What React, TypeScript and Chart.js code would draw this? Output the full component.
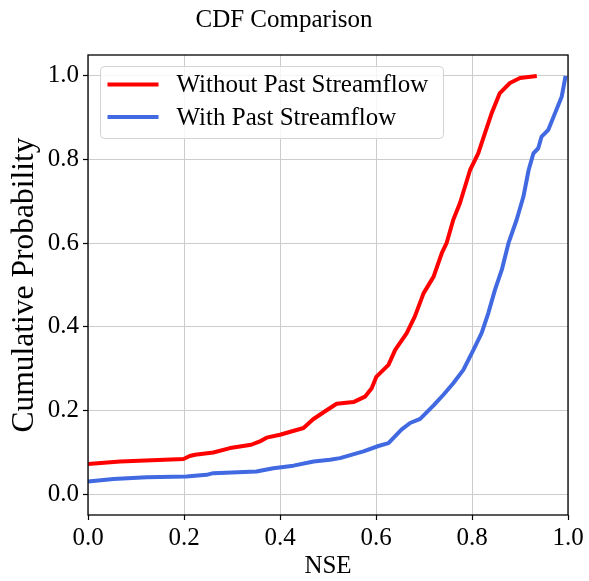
import React, { useEffect, useRef } from "react";
import { Chart, registerables } from "chart.js";

Chart.register(...registerables);

const TITLE = "CDF Comparison";
const X_LABEL = "NSE";
const Y_LABEL = "Cumulative Probability";
const SERIES_LABELS = ["Without Past Streamflow", "With Past Streamflow"];
const SERIES_COLORS = ["#ff0000", "#4169e1"];
const X_TICKS = [0, 0.2, 0.4, 0.6, 0.8, 1.0];
const Y_TICKS = [0, 0.2, 0.4, 0.6, 0.8, 1.0];

const withoutX = [0.0, 0.067, 0.199, 0.212, 0.223, 0.261, 0.296, 0.34, 0.358, 0.372, 0.4, 0.449, 0.469, 0.494, 0.518, 0.553, 0.577, 0.591, 0.601, 0.626, 0.64, 0.664, 0.681, 0.699, 0.72, 0.737, 0.747, 0.761, 0.775, 0.796, 0.813, 0.827, 0.841, 0.858, 0.879, 0.9, 0.935];
const withoutY = [0.072, 0.078, 0.084, 0.091, 0.094, 0.0995, 0.11, 0.118, 0.126, 0.135, 0.142, 0.158, 0.179, 0.198, 0.216, 0.22, 0.233, 0.253, 0.281, 0.309, 0.345, 0.385, 0.425, 0.48, 0.52, 0.576, 0.6, 0.656, 0.696, 0.775, 0.815, 0.863, 0.911, 0.959, 0.983, 0.995, 1.0];

const withX = [0.0, 0.053, 0.122, 0.205, 0.247, 0.261, 0.351, 0.386, 0.428, 0.47, 0.504, 0.525, 0.574, 0.605, 0.626, 0.653, 0.671, 0.692, 0.72, 0.74, 0.761, 0.782, 0.803, 0.82, 0.834, 0.848, 0.862, 0.876, 0.893, 0.907, 0.918, 0.928, 0.938, 0.945, 0.959, 0.973, 0.987, 0.995];
const withY = [0.03, 0.036, 0.04, 0.042, 0.046, 0.05, 0.054, 0.062, 0.068, 0.078, 0.082, 0.086, 0.102, 0.115, 0.122, 0.154, 0.17, 0.18, 0.212, 0.237, 0.265, 0.297, 0.345, 0.385, 0.433, 0.489, 0.536, 0.6, 0.656, 0.711, 0.775, 0.815, 0.827, 0.855, 0.871, 0.911, 0.951, 1.0];

const FONT_FAMILY = "'Liberation Serif', 'Times New Roman', serif";
const FONT_SIZE = 25;
const Y_LABEL_SIZE = 31.5;

const toPoints = (xs: number[], ys: number[]) => xs.map((x, i) => ({ x, y: ys[i] }));

const framePlugin = {
  id: "frameAndLegend",
  afterDraw(chart: any) {
    const { ctx, chartArea } = chart;
    ctx.save();
    ctx.strokeStyle = "#000";
    ctx.lineWidth = 1.3;
    ctx.strokeRect(chartArea.left, chartArea.top, chartArea.right - chartArea.left, chartArea.bottom - chartArea.top);

    const bx = chartArea.left + 12.5;
    const by = chartArea.top + 11.5;
    const bw = 343;
    const bh = 72;
    const r = 4;
    ctx.beginPath();
    ctx.moveTo(bx + r, by);
    ctx.lineTo(bx + bw - r, by);
    ctx.quadraticCurveTo(bx + bw, by, bx + bw, by + r);
    ctx.lineTo(bx + bw, by + bh - r);
    ctx.quadraticCurveTo(bx + bw, by + bh, bx + bw - r, by + bh);
    ctx.lineTo(bx + r, by + bh);
    ctx.quadraticCurveTo(bx, by + bh, bx, by + bh - r);
    ctx.lineTo(bx, by + r);
    ctx.quadraticCurveTo(bx, by, bx + r, by);
    ctx.closePath();
    ctx.fillStyle = "rgba(255,255,255,0.8)";
    ctx.fill();
    ctx.strokeStyle = "#d3d3d3";
    ctx.lineWidth = 1;
    ctx.stroke();

    chart.data.datasets.forEach((ds: any, i: number) => {
      const y = by + 18 + i * 32.5;
      ctx.beginPath();
      ctx.strokeStyle = ds.borderColor;
      ctx.lineWidth = 4;
      ctx.lineCap = "butt";
      ctx.moveTo(bx + 7, y);
      ctx.lineTo(bx + 58, y);
      ctx.stroke();
      ctx.fillStyle = "#000";
      ctx.font = `${FONT_SIZE}px ${FONT_FAMILY}`;
      ctx.textBaseline = "middle";
      ctx.textAlign = "left";
      ctx.fillText(ds.label, bx + 76, y + 1);
    });
    ctx.restore();
  },
};

export default function App() {
  const canvasRef = useRef<HTMLCanvasElement | null>(null);

  useEffect(() => {
    if (!canvasRef.current) return;
    const tickFont = { family: FONT_FAMILY, size: FONT_SIZE };
    const lineStyle = {
      showLine: true,
      pointRadius: 0,
      borderWidth: 4,
      tension: 0,
      borderJoinStyle: "round",
      borderCapStyle: "butt",
    };
    const chart = new Chart(canvasRef.current, {
      type: "scatter",
      data: {
        datasets: [
          {
            label: SERIES_LABELS[0],
            data: toPoints(withoutX, withoutY),
            borderColor: SERIES_COLORS[0],
            backgroundColor: SERIES_COLORS[0],
            ...lineStyle,
          },
          {
            label: SERIES_LABELS[1],
            data: toPoints(withX, withY),
            borderColor: SERIES_COLORS[1],
            backgroundColor: SERIES_COLORS[1],
            ...lineStyle,
          },
        ],
      },
      options: {
        animation: false,
        responsive: false,
        devicePixelRatio: 1,
        layout: { padding: { left: 0, right: 21, top: 0, bottom: 0 } },
        plugins: {
          legend: { display: false },
          tooltip: { enabled: false },
          title: {
            display: true,
            text: TITLE,
            color: "#000",
            font: { family: FONT_FAMILY, size: FONT_SIZE, weight: "normal" },
            padding: { top: 5, bottom: 20 },
          },
        },
        scales: {
          x: {
            type: "linear",
            min: 0,
            max: 1,
            afterFit: (s: any) => {
              s.height = 66;
            },
            afterBuildTicks: (s: any) => {
              s.ticks = X_TICKS.map((v) => ({ value: v }));
            },
            ticks: {
              color: "#000",
              font: tickFont,
              padding: 3,
              maxRotation: 0,
              autoSkip: false,
              callback: (v: any) => Number(v).toFixed(1),
            },
            grid: {
              color: "#cccccc",
              lineWidth: 1,
              tickColor: "#000",
              tickLength: 5,
              tickWidth: 1.2,
            },
            border: { display: false },
            title: {
              display: true,
              text: X_LABEL,
              color: "#000",
              font: { family: FONT_FAMILY, size: FONT_SIZE },
              padding: { top: 0, bottom: 0 },
            },
          },
          y: {
            type: "linear",
            min: -0.05,
            max: 1.05,
            afterFit: (s: any) => {
              s.width = 88;
            },
            afterBuildTicks: (s: any) => {
              s.ticks = Y_TICKS.map((v) => ({ value: v }));
            },
            ticks: {
              color: "#000",
              font: tickFont,
              padding: 4,
              autoSkip: false,
              callback: (v: any) => Number(v).toFixed(1),
            },
            grid: {
              color: "#cccccc",
              lineWidth: 1,
              tickColor: "#000",
              tickLength: 5,
              tickWidth: 1.2,
            },
            border: { display: false },
            title: {
              display: true,
              text: Y_LABEL,
              color: "#000",
              font: { family: FONT_FAMILY, size: Y_LABEL_SIZE },
              padding: { top: 6, bottom: 0 },
            },
          },
        },
      },
      plugins: [framePlugin],
    } as any);
    return () => chart.destroy();
  }, []);

  return (
    <div style={{ position: "absolute", left: 0, top: 0, width: 589, height: 581, background: "#fff" }}>
      <canvas ref={canvasRef} width={589} height={581} style={{ width: 589, height: 581, display: "block" }} />
    </div>
  );
}
